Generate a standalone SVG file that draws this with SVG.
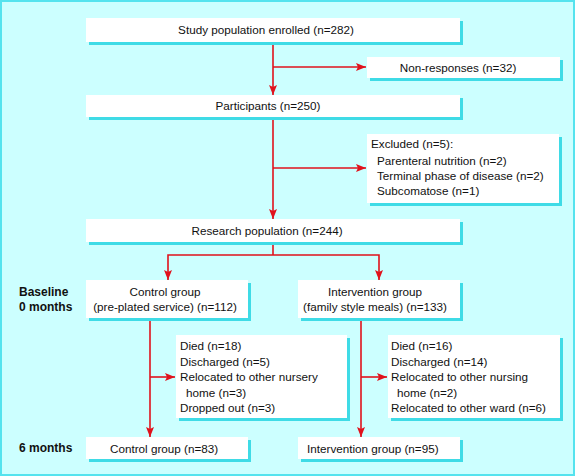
<svg xmlns="http://www.w3.org/2000/svg" width="576" height="476" viewBox="0 0 576 476">
<defs>
<style>
.bg{fill:#ccffff;stroke:#55e3ee;stroke-width:2}
.sh{fill:#3fdbe6}
.bx{fill:#ffffff}
.t{font-family:"Liberation Sans",Arial,sans-serif;font-size:11.7px;fill:#111}
.c{text-anchor:middle}
.b{font-weight:bold;font-size:12px}
.ln{stroke:#e0121c;stroke-width:1.6;fill:none}
.ar{marker-end:url(#ah)}
</style>
<marker id="ah" markerUnits="userSpaceOnUse" markerWidth="12" markerHeight="10" refX="10" refY="4" orient="auto">
<path d="M0,0 L10,4 L0,8 L2,4 z" fill="#e0121c"/>
</marker>
</defs>
<rect class="bg" x="1" y="1" width="573" height="474"/>

<g id="connectors">
<line class="ln ar" x1="273" y1="42" x2="273" y2="95"/>
<line class="ln ar" x1="273" y1="67" x2="366" y2="67"/>
<line class="ln ar" x1="273" y1="117" x2="273" y2="219"/>
<line class="ln ar" x1="273" y1="168" x2="366" y2="168"/>
<line class="ln" x1="273" y1="242" x2="273" y2="255"/>
<polyline class="ln ar" points="273,255 168,255 168,280"/>
<polyline class="ln ar" points="273,255 379,255 379,280"/>
<line class="ln ar" x1="150" y1="318" x2="150" y2="437"/>
<line class="ln ar" x1="150" y1="377" x2="175" y2="377"/>
<line class="ln ar" x1="361" y1="318" x2="361" y2="437"/>
<line class="ln ar" x1="361" y1="377" x2="387" y2="377"/>
</g>

<g id="study">
<rect class="sh" x="89" y="21" width="374" height="24"/>
<rect class="bx" x="86" y="18" width="374" height="24"/>
<text class="t c" x="266" y="34">Study population enrolled (n=282)</text>
</g>
<g id="nonresp">
<rect class="sh" x="370" y="60" width="193" height="21"/>
<rect class="bx" x="367" y="57" width="193" height="21"/>
<text class="t c" x="458" y="71.5">Non-responses (n=32)</text>
</g>
<g id="participants">
<rect class="sh" x="89" y="98" width="374" height="22"/>
<rect class="bx" x="86" y="95" width="374" height="22"/>
<text class="t c" x="268" y="110">Participants (n=250)</text>
</g>
<g id="excluded">
<rect class="sh" x="370" y="137" width="192" height="69"/>
<rect class="bx" x="367" y="134" width="192" height="69"/>
<text class="t" x="371" y="148">Excluded (n=5):</text>
<text class="t" x="377" y="165">Parenteral nutrition (n=2)</text>
<text class="t" x="377" y="180">Terminal phase of disease (n=2)</text>
<text class="t" x="377" y="195">Subcomatose (n=1)</text>
</g>
<g id="research">
<rect class="sh" x="89" y="222" width="374" height="23"/>
<rect class="bx" x="86" y="219" width="374" height="23"/>
<text class="t c" x="267" y="235">Research population (n=244)</text>
</g>
<g id="labels">
<text class="t b" x="19" y="296">Baseline</text>
<text class="t b" x="19" y="311">0 months</text>
<text class="t b" x="19" y="452">6 months</text>
</g>
<g id="control0">
<rect class="sh" x="89" y="283" width="162" height="38"/>
<rect class="bx" x="86" y="280" width="162" height="38"/>
<text class="t c" x="165" y="296">Control group</text>
<text class="t c" x="165" y="311">(pre-plated service) (n=112)</text>
</g>
<g id="intervention0">
<rect class="sh" x="301" y="283" width="162" height="38"/>
<rect class="bx" x="298" y="280" width="162" height="38"/>
<text class="t c" x="375" y="296">Intervention group</text>
<text class="t c" x="375" y="311">(family style meals) (n=133)</text>
</g>
<g id="lossControl">
<rect class="sh" x="179" y="338" width="171" height="83"/>
<rect class="bx" x="176" y="335" width="171" height="83"/>
<text class="t" x="180" y="350">Died (n=18)</text>
<text class="t" x="180" y="365.5">Discharged (n=5)</text>
<text class="t" x="180" y="381">Relocated to other nursery</text>
<text class="t" x="186" y="396.5">home (n=3)</text>
<text class="t" x="180" y="412">Dropped out (n=3)</text>
</g>
<g id="lossIntervention">
<rect class="sh" x="391" y="338" width="172" height="83"/>
<rect class="bx" x="388" y="335" width="172" height="83"/>
<text class="t" x="391" y="350">Died (n=16)</text>
<text class="t" x="391" y="365.5">Discharged (n=14)</text>
<text class="t" x="391" y="381">Relocated to other nursing</text>
<text class="t" x="397" y="396.5">home (n=2)</text>
<text class="t" x="391" y="412">Relocated to other ward (n=6)</text>
</g>
<g id="control6">
<rect class="sh" x="89" y="440" width="162" height="22"/>
<rect class="bx" x="86" y="437" width="162" height="22"/>
<text class="t" x="110" y="452.5">Control group (n=83)</text>
</g>
<g id="intervention6">
<rect class="sh" x="301" y="440" width="162" height="22"/>
<rect class="bx" x="298" y="437" width="162" height="22"/>
<text class="t" x="307" y="452.5">Intervention group (n=95)</text>
</g>
</svg>
